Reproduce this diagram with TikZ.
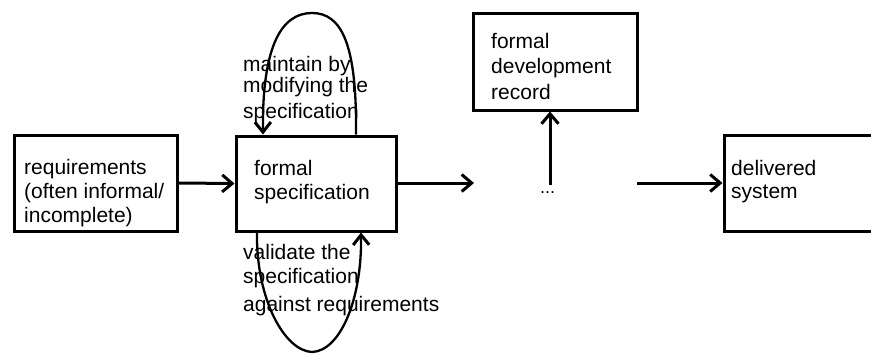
\documentclass[tikz,border=0pt]{standalone}
\usepackage{fontspec}
\setmainfont{Liberation Sans}
\usetikzlibrary{arrows.meta}
\begin{document}
\begin{tikzpicture}[x=1pt,y=-1pt,
  box/.style={draw, line width=3pt, inner sep=0pt},
  lbl/.style={anchor=base west, inner sep=0pt, font=\fontsize{21}{24}\selectfont},
  arr/.style={line width=3pt, -{Straight Barb[length=10pt,width=17pt]}},
  loop/.style={line width=2.3pt, -{Straight Barb[length=10pt,width=16pt,line width=3pt]}}]
\clip (0,0) rectangle (871,354);
\fill[white] (0,0) rectangle (871,354);
% boxes
\node[box, minimum width=163pt, minimum height=96pt] (req) at (95.5,183) {};
\node[box, minimum width=160pt, minimum height=95pt] (spec) at (316,183.5) {};
\node[box, minimum width=164pt, minimum height=97pt] (rec) at (555,61.5) {};
\node[box, minimum width=170pt, minimum height=96pt] (del) at (809,183) {};
% texts
\node[lbl] (t1) at (24,174) {requirements};
\node[lbl] (t2) at (24,198) {(often informal/};
\node[lbl] (t3) at (24,222) {incomplete)};
\node[lbl] (t4) at (254,175) {formal};
\node[lbl] (t5) at (254,199) {specification};
\node[lbl] (t6) at (243,71) {maintain by};
\node[lbl] (t7) at (243,92) {modifying the};
\node[lbl] (t8) at (243,118) {specification};
\node[lbl] (t9) at (243,259) {validate the};
\node[lbl] (t10) at (243,283) {specification};
\node[lbl] (t11) at (243,311) {against requirements};
\node[lbl] (t12) at (491,48) {formal};
\node[lbl] (t13) at (491,73) {development};
\node[lbl] (t14) at (491,99) {record};
\node[lbl] (t15) at (731,175) {delivered};
\node[lbl] (t16) at (731,198) {system};
\node[lbl, font=\fontsize{18}{20}\selectfont] (dots) at (540,193) {...};
% connectors
\coordinate (gapin) at (474,183);
\coordinate (up) at (550,185);
\coordinate (out) at (637,183);
\draw[arr] (req.east) -- (spec.west);
\draw[arr] (spec.east |- gapin) -- (gapin);
\draw[arr] (up) -- (up |- rec.south);
\draw[arr] (out) -- (out -| del.west);
% loops
\coordinate (ltop) at (312,13);
\coordinate (lbot) at (312,352);
\draw[loop] (spec.north -| 356,0) .. controls (357,45) and (342,13) .. (ltop)
   .. controls (282,13) and (262,45) .. (spec.north -| 263,0);
\draw[loop] (spec.south -| 257,0) .. controls (256,300) and (285,351) .. (lbot)
   .. controls (340,351) and (362,300) .. (spec.south -| 361,0);
\end{tikzpicture}
\end{document}
